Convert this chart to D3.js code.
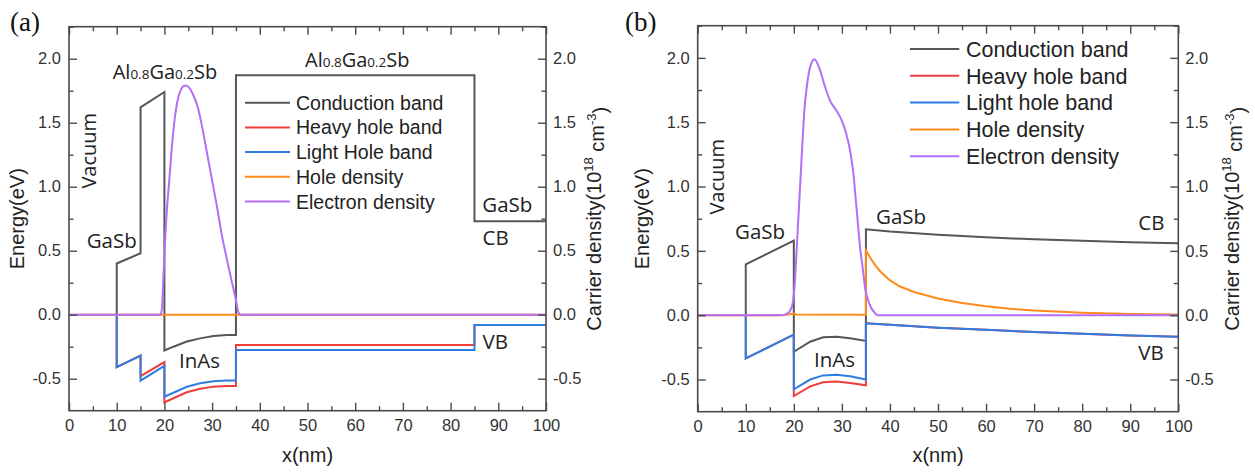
<!DOCTYPE html>
<html>
<head>
<meta charset="utf-8">
<script src="https://cdn.jsdelivr.net/npm/d3@7"></script>
<style>
  html, body { margin: 0; padding: 0; background: #fff; }
  svg { display: block; }
</style>
</head>
<body>
<svg id="chart" width="1255" height="474"></svg>
<script>
// ---------------- DATA ----------------
const xTickValues = [0, 10, 20, 30, 40, 50, 60, 70, 80, 90, 100];
const xTickLabels = ["0", "10", "20", "30", "40", "50", "60", "70", "80", "90", "100"];
const yTickValues = [-0.5, 0.0, 0.5, 1.0, 1.5, 2.0];
const yTickLabels = ["-0.5", "0.0", "0.5", "1.0", "1.5", "2.0"];
const seriesNames = ["Conduction band", "Heavy hole band", "Light Hole band", "Hole density", "Electron density"];
const seriesNamesB = ["Conduction band", "Heavy hole band", "Light hole band", "Hole density", "Electron density"];

// Panel (a)
const cbA_x = [10, 10, 15, 15, 20, 20, 21.9, 24.7, 27.5, 30.3, 33.1, 35, 35, 85, 85, 100];
const cbA_y = [0, 0.40, 0.48, 1.62, 1.74, -0.28, -0.25, -0.21, -0.185, -0.166, -0.159, -0.158, 1.87, 1.87, 0.73, 0.73];
const hhA_x = [10, 10, 15, 15, 20, 20, 21.9, 24.7, 27.5, 30.3, 33, 35, 35, 85, 85, 100];
const hhA_y = [0, -0.41, -0.32, -0.48, -0.37, -0.685, -0.653, -0.606, -0.579, -0.562, -0.557, -0.557, -0.237, -0.237, -0.08, -0.08];
const lhA_x = [10, 10, 15, 15, 20, 20, 21.9, 24.7, 27.5, 30.3, 33, 35, 35, 85, 85, 100];
const lhA_y = [0, -0.41, -0.32, -0.515, -0.40, -0.64, -0.61, -0.563, -0.536, -0.52, -0.515, -0.515, -0.276, -0.276, -0.08, -0.08];
const holeA_x = [0, 100];
const holeA_y = [0, 0];
const elecA_x = [0, 19.2, 19.5, 19.8, 20.2, 20.6, 21, 21.5, 22, 22.5, 23, 23.5, 24, 24.5, 25, 26, 27, 28, 29, 30, 31, 32, 33, 34, 35, 35.5, 36, 100];
const elecA_y = [0, 0, 0.06, 0.3, 0.62, 0.86, 1.04, 1.28, 1.48, 1.62, 1.71, 1.76, 1.785, 1.79, 1.78, 1.72, 1.62, 1.45, 1.25, 1.05, 0.85, 0.63, 0.45, 0.28, 0.115, 0.02, 0, 0];

// Panel (b)
const cbB_x = [10, 10, 20, 20, 23.4, 26.1, 28.9, 31.7, 35, 35, 40, 50, 60, 70, 80, 90, 100];
const cbB_y = [0, 0.395, 0.58, -0.284, -0.206, -0.172, -0.167, -0.18, -0.2, 0.667, 0.65, 0.625, 0.605, 0.59, 0.578, 0.567, 0.559];
const hhB_x = [10, 10, 20, 20, 23.4, 26.1, 28.9, 31.7, 35, 35, 40, 50, 60, 70, 80, 90, 100];
const hhB_y = [0, -0.335, -0.15, -0.628, -0.553, -0.522, -0.516, -0.527, -0.545, -0.063, -0.075, -0.097, -0.114, -0.13, -0.145, -0.157, -0.167];
const lhB_x = [10, 10, 20, 20, 23.4, 26.1, 28.9, 31.7, 35, 35, 40, 50, 60, 70, 80, 90, 100];
const lhB_y = [0, -0.335, -0.15, -0.576, -0.50, -0.468, -0.462, -0.475, -0.50, -0.063, -0.075, -0.097, -0.114, -0.13, -0.145, -0.157, -0.167];
const holeB_x = [0, 17.5, 18.5, 19.5, 20, 20.5, 35, 35, 36, 37, 38, 40, 42, 45, 50, 55, 60, 65, 70, 80, 90, 100];
const holeB_y = [0, 0, 0.003, 0.01, 0.015, 0.006, 0.004, 0.505, 0.44, 0.385, 0.34, 0.27, 0.225, 0.18, 0.13, 0.095, 0.07, 0.05, 0.037, 0.02, 0.01, 0.006];
const elecB_x = [0, 17.5, 18.5, 19.3, 19.8, 20.15, 20.4, 20.7, 21.0, 21.3, 21.6, 21.9, 22.2, 22.7, 23.4, 24.3, 25.2, 26.5, 27.5, 28.8, 29.9, 30.9, 31.7, 32.4, 32.9, 33.4, 33.8, 34.3, 34.8, 35.7, 36.9, 37.5, 100];
const elecB_y = [0, 0, 0.01, 0.04, 0.1, 0.22, 0.38, 0.584, 0.79, 0.998, 1.206, 1.413, 1.594, 1.775, 1.93, 1.99, 1.93, 1.775, 1.67, 1.594, 1.52, 1.413, 1.28, 1.10, 0.894, 0.687, 0.52, 0.377, 0.22, 0.09, 0.015, 0, 0];

// ---------------- STYLE ----------------
const colors = ["#565656", "#ee3d3d", "#2f7de3", "#ff8a1c", "#b46ef7"];
const FONT = "'Liberation Sans', Arial, sans-serif";
const ANN = "'Open Sans', 'Liberation Sans', sans-serif";
const axisColor = "#4a4a4a";

const svg = d3.select("#chart");
const zip = (xs, ys) => xs.map((x, i) => [x, ys[i]]);

const panels = [
  {
    label: "(a)", labelPos: [10, 31],
    box: { left: 69, right: 546, top: 26.7, bottom: 410.7 },
    series: [zip(cbA_x, cbA_y), zip(hhA_x, hhA_y), zip(lhA_x, lhA_y), zip(holeA_x, holeA_y), zip(elecA_x, elecA_y)],
    smooth: [false, false, false, false, true],
    names: seriesNames,
    legend: { x0: 245, x1: 290, tx: 296, y0: 102.7, dy: 24.7, size: 19.5 },
    leftTitleX: 17, rightTitleX: 594,
    ann: [
      { t: "GaSb", x: 3.71, y: 0.519 },
      { t: "InAs", x: 23.06, y: -0.414 },
      { t: "GaSb", x: 86.65, y: 0.80 },
      { t: "CB", x: 86.7, y: 0.545 },
      { t: "VB", x: 86.7, y: -0.27 },
      { t: "AlGa", x: 9.16, y: 1.841 },
      { t: "AlGa", x: 49.48, y: 1.935 },
      { t: "Vacuum", x: 4.19, y: 1.281, rot: true }
    ]
  },
  {
    label: "(b)", labelPos: [625, 31],
    box: { left: 697.7, right: 1178.3, top: 25.7, bottom: 411.7 },
    series: [zip(cbB_x, cbB_y), zip(hhB_x, hhB_y), zip(lhB_x, lhB_y), zip(holeB_x, holeB_y), zip(elecB_x, elecB_y)],
    smooth: [false, false, false, false, true],
    names: seriesNamesB,
    legend: { x0: 910, x1: 959.3, tx: 966, y0: 49, dy: 26.8, size: 21.5 },
    leftTitleX: 642, rightTitleX: 1232,
    ann: [
      { t: "GaSb", x: 7.76, y: 0.59 },
      { t: "GaSb", x: 37.1, y: 0.709 },
      { t: "InAs", x: 24.2, y: -0.40 },
      { t: "CB", x: 91.68, y: 0.662 },
      { t: "VB", x: 91.68, y: -0.348 },
      { t: "Vacuum", x: 3.95, y: 1.076, rot: true }
    ]
  }
];

panels.forEach(p => {
  const b = p.box;
  const x = d3.scaleLinear().domain([0, 100]).range([b.left, b.right]);
  const y = d3.scaleLinear().domain([-0.75, 2.25]).range([b.bottom, b.top]);
  const g = svg.append("g");

  const lineStraight = d3.line().x(d => x(d[0])).y(d => y(d[1]));
  const lineSmooth = d3.line().x(d => x(d[0])).y(d => y(d[1])).curve(d3.curveMonotoneX);
  [0, 1, 2, 3, 4].forEach(i => {
    g.append("path")
      .datum(p.series[i])
      .attr("d", p.smooth[i] ? lineSmooth : lineStraight)
      .attr("fill", "none")
      .attr("stroke", colors[i])
      .attr("stroke-width", 2)
      .attr("stroke-linejoin", "miter");
  });

  const minorX = d3.range(5, 100, 10);
  const minorY = [-0.25, 0.25, 0.75, 1.25, 1.75, 2.25];
  const styleAxis = sel => {
    sel.select(".domain").remove();
    sel.selectAll(".tick line").attr("stroke", axisColor).attr("stroke-width", 1.4);
    sel.selectAll(".tick text").attr("fill", "#333").style("font-family", FONT).style("font-size", "16.5px");
  };
  g.append("g").attr("transform", `translate(0,${b.bottom})`)
    .call(d3.axisBottom(x).tickValues(xTickValues).tickFormat((d, i) => xTickLabels[i]).tickSize(-8).tickPadding(9))
    .call(styleAxis);
  g.append("g").attr("transform", `translate(0,${b.bottom})`)
    .call(d3.axisBottom(x).tickValues(minorX).tickFormat("").tickSize(-4.5)).call(styleAxis);
  g.append("g").attr("transform", `translate(0,${b.top})`)
    .call(d3.axisTop(x).tickValues(xTickValues).tickFormat("").tickSize(-8)).call(styleAxis);
  g.append("g").attr("transform", `translate(0,${b.top})`)
    .call(d3.axisTop(x).tickValues(minorX).tickFormat("").tickSize(-4.5)).call(styleAxis);
  g.append("g").attr("transform", `translate(${b.left},0)`)
    .call(d3.axisLeft(y).tickValues(yTickValues).tickFormat((d, i) => yTickLabels[i]).tickSize(-8).tickPadding(8))
    .call(styleAxis);
  g.append("g").attr("transform", `translate(${b.left},0)`)
    .call(d3.axisLeft(y).tickValues(minorY).tickFormat("").tickSize(-4.5)).call(styleAxis);
  g.append("g").attr("transform", `translate(${b.right},0)`)
    .call(d3.axisRight(y).tickValues(yTickValues).tickFormat((d, i) => yTickLabels[i]).tickSize(-8).tickPadding(7))
    .call(styleAxis);
  g.append("g").attr("transform", `translate(${b.right},0)`)
    .call(d3.axisRight(y).tickValues(minorY).tickFormat("").tickSize(-4.5)).call(styleAxis);

  g.append("rect")
    .attr("x", b.left).attr("y", b.top)
    .attr("width", b.right - b.left).attr("height", b.bottom - b.top)
    .attr("fill", "none").attr("stroke", axisColor).attr("stroke-width", 1.6);

  const midY = (b.top + b.bottom) / 2;
  g.append("text")
    .attr("x", (b.left + b.right) / 2).attr("y", 455)
    .attr("text-anchor", "middle").attr("dominant-baseline", "central")
    .style("font-family", FONT).style("font-size", "20px").attr("fill", "#222")
    .text("x(nm)");
  g.append("text")
    .attr("transform", `translate(${p.leftTitleX},${midY}) rotate(-90)`)
    .attr("text-anchor", "middle").attr("dominant-baseline", "central")
    .style("font-family", FONT).style("font-size", "20px").attr("fill", "#222")
    .text("Energy(eV)");
  const rt = g.append("text")
    .attr("transform", `translate(${p.rightTitleX},${midY}) rotate(-90)`)
    .attr("text-anchor", "middle").attr("dominant-baseline", "central")
    .style("font-family", FONT).style("font-size", "20px").attr("fill", "#222");
  rt.append("tspan").text("Carrier density(10");
  rt.append("tspan").attr("dy", "-0.45em").style("font-size", "13px").text("18");
  rt.append("tspan").attr("dy", "0.45em").text(" cm");
  rt.append("tspan").attr("dy", "-0.45em").style("font-size", "13px").text("-3");
  rt.append("tspan").attr("dy", "0.45em").text(")");

  g.append("text")
    .attr("x", p.labelPos[0]).attr("y", p.labelPos[1])
    .style("font-family", "'Liberation Serif', 'Times New Roman', serif").style("font-size", "27px").attr("fill", "#111")
    .text(p.label);

  const L = p.legend;
  p.names.forEach((n, i) => {
    const yy = L.y0 + i * L.dy;
    g.append("line").attr("x1", L.x0).attr("x2", L.x1).attr("y1", yy).attr("y2", yy)
      .attr("stroke", colors[i]).attr("stroke-width", 2);
    g.append("text").attr("x", L.tx).attr("y", yy).attr("dy", "0.36em")
      .style("font-family", FONT).style("font-size", L.size + "px").attr("fill", "#222")
      .text(n);
  });

  p.ann.forEach(a => {
    if (a.rot) {
      g.append("text")
        .attr("transform", `translate(${x(a.x)},${y(a.y)}) rotate(-90)`)
        .attr("text-anchor", "middle").attr("dominant-baseline", "central")
        .style("font-family", ANN).style("font-size", "20px").attr("fill", "#222")
        .text(a.t);
    } else if (a.t === "AlGa") {
      const t = g.append("text").attr("x", x(a.x)).attr("y", y(a.y))
        .style("font-family", ANN).style("font-size", "20px").attr("fill", "#222");
      t.append("tspan").text("Al");
      t.append("tspan").style("font-size", "13.5px").text("0.8");
      t.append("tspan").text("Ga");
      t.append("tspan").style("font-size", "13.5px").text("0.2");
      t.append("tspan").text("Sb");
    } else {
      g.append("text").attr("x", x(a.x)).attr("y", y(a.y))
        .style("font-family", ANN).style("font-size", "20.5px").attr("fill", "#222")
        .text(a.t);
    }
  });
});
</script>
</body>
</html>
